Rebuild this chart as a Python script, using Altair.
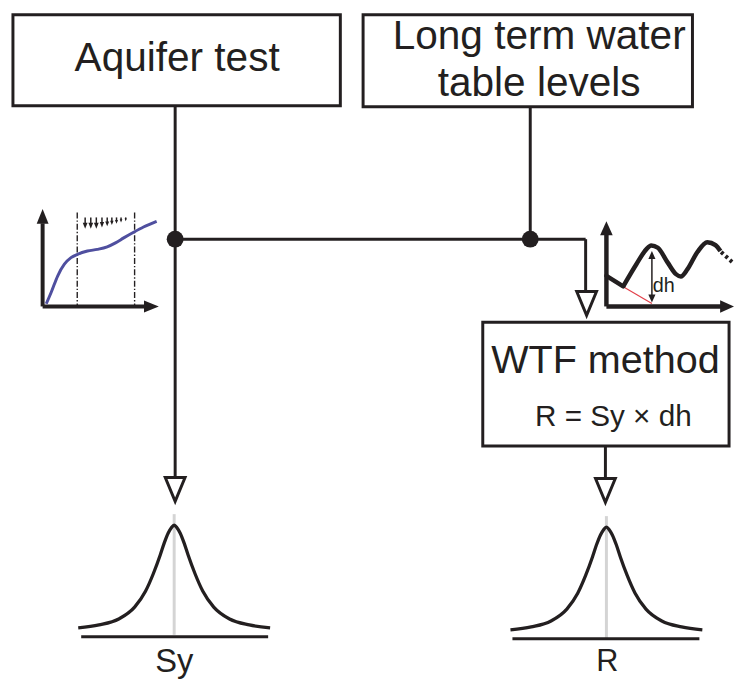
import altair as alt
import pandas as pd

INK = "#231f20"
FONT = "Liberation Sans"

# ---- flow-chart boxes (pixel coordinates of the diagram) ----
box_x1 = [13, 367, 488]
box_x2 = [344, 700, 737]
box_y1 = [11, 11, 322]
box_y2 = [103, 104, 447]

# ---- labels ----
label_text = ["Aquifer test", "Long term water", "table levels", "WTF method",
              "R = Sy \u00d7 dh", "Sy", "R", "dh"]
label_x = [179, 545, 545, 612, 620, 176, 614, 671]
label_y = [68, 46, 93, 373, 427, 676, 675, 291]
label_size = [41, 41, 41, 40, 30, 33, 31, 20]

# ---- connector segments ----
seg_x1 = [177, 536, 177, 592, 612]
seg_y1 = [103, 104, 238, 238, 447]
seg_x2 = [177, 536, 592, 592, 612]
seg_y2 = [478, 238, 238, 290, 480]

# junction dots
dot_x = [177, 536]
dot_y = [238, 238]

# hollow arrow heads
harrow_x = [177, 593, 612]
harrow_y = [491, 303, 492]

# ---- distributions ----
bell_dx = [-97, -76, -56, -40, -29, -21, -14, -10, -6, -3, 0, 3, 6, 10, 14, 21, 29, 40, 56, 76, 97]
bell_h = [0, 3, 9, 21, 37, 55, 74, 86, 96, 101, 104, 101, 96, 86, 74, 55, 37, 21, 9, 3, 0]
bell_cx = [176, 613]
bell_base = [631, 633]
grey_x = [176, 613]
grey_y1 = [516, 518]
grey_y2 = [638, 642]
baseline_x1 = [82, 518]
baseline_x2 = [271, 707]
baseline_y = [640, 642]

# ---- aquifer test inset ----
aq_curve_x = [46.7, 51.7, 58.3, 65, 71.7, 78.3, 88.3, 98.3, 108.3, 116.7, 125, 135, 145, 158.3]
aq_curve_y = [303.3, 291.7, 275, 263.3, 256.7, 253.3, 250, 248.3, 245.7, 241.7, 236.7, 231, 225.7, 220]
aq_axis_x1 = [43, 43]
aq_axis_y1 = [222, 306]
aq_axis_x2 = [43, 147]
aq_axis_y2 = [306, 306]
aq_dash_x = [78, 136]
aq_dash_y1 = [211, 211]
aq_dash_y2 = [305, 305]
drop_x = [86, 91.7, 97.3, 103, 108.3, 113, 117.7, 122.3, 127]
drop_h = [11, 11, 11, 10, 9, 8, 7, 6, 5]
drop_top = 216

# ---- WTF inset ----
wtf_axis_x1 = [613, 613]
wtf_axis_y1 = [233, 306]
wtf_axis_x2 = [613, 729]
wtf_axis_y2 = [306, 306]
wtf_start_x = [613, 630]
wtf_start_y = [275, 285.7]
wtf_curve_x = [630, 643.3, 653.3, 658.3, 665, 675, 683.3, 688.3, 695, 705, 715, 723.3, 728.3]
wtf_curve_y = [285.7, 263.3, 248.3, 244.3, 246.7, 261.7, 273.3, 275.7, 268.3, 251, 241, 244, 250]
wtf_dash_x = [729, 740]
wtf_dash_y = [251, 261]
red_x = [630, 659]
red_y = [286, 303]
dh_x = 659
dh_y1 = 257
dh_y2 = 295

XS = alt.Scale(domain=[8, 734], nice=False, zero=False)
YS = alt.Scale(domain=[8, 677], nice=False, zero=False, reverse=True)


def X(f="x"):
    return alt.X(f, type="quantitative", scale=XS, axis=None)


def Y(f="y"):
    return alt.Y(f, type="quantitative", scale=YS, axis=None)


def rules(x1, y1, x2, y2, **kw):
    df = pd.DataFrame({"x": x1, "y": y1, "x2": x2, "y2": y2})
    return alt.Chart(df).mark_rule(**kw).encode(
        x=X(), y=Y(), x2=alt.X2("x2:Q"), y2=alt.Y2("y2:Q"))


def poly(xs, ys, **kw):
    df = pd.DataFrame({"x": xs, "y": ys, "o": list(range(len(xs)))})
    return alt.Chart(df).mark_line(**kw).encode(
        x=X(), y=Y(), order="o:Q")


def heads(xs, ys, sizes, shape):
    df = pd.DataFrame({"x": xs, "y": ys, "s": sizes})
    return alt.Chart(df).mark_point(shape=shape, filled=True, color=INK, opacity=1,
                                    strokeWidth=0).encode(
        x=X(), y=Y(), size=alt.Size("s:Q", scale=None, legend=None))


UP = "M0,-1L0.8,1L-0.8,1Z"
DOWN = "M0,1L0.8,-1L-0.8,-1Z"
RIGHT = "M1,0L-1,0.8L-1,-0.8Z"

boxes = alt.Chart(pd.DataFrame({"x": box_x1, "x2": box_x2, "y": box_y1, "y2": box_y2})).mark_rect(
    fill="white", stroke=INK, strokeWidth=3).encode(
    x=X(), x2=alt.X2("x2:Q"), y=Y(), y2=alt.Y2("y2:Q"))

labels = alt.Chart(pd.DataFrame({"t": label_text, "x": label_x, "y": label_y, "s": label_size})).mark_text(
    align="center", baseline="alphabetic", font=FONT, color=INK).encode(
    x=X(), y=Y(), text="t:N", size=alt.Size("s:Q", scale=None, legend=None))

connectors = rules(seg_x1, seg_y1, seg_x2, seg_y2, color=INK, strokeWidth=3)

dots = alt.Chart(pd.DataFrame({"x": dot_x, "y": dot_y})).mark_point(
    shape="circle", filled=True, color=INK, size=290, opacity=1).encode(x=X(), y=Y())

harrows = alt.Chart(pd.DataFrame({"x": harrow_x, "y": harrow_y})).mark_point(
    shape="M-0.83,-1L0.83,-1L0,1Z", filled=False, fill="white", stroke=INK,
    strokeWidth=3, size=580, opacity=1, fillOpacity=1, strokeJoin="miter").encode(x=X(), y=Y())

bell_rows = []
for i, (cx, b) in enumerate(zip(bell_cx, bell_base)):
    for j, (dx, h) in enumerate(zip(bell_dx, bell_h)):
        bell_rows.append({"id": i, "o": j, "x": cx + dx, "y": b - h})
bells = alt.Chart(pd.DataFrame(bell_rows)).mark_line(
    color=INK, strokeWidth=3.3, interpolate="monotone").encode(
    x=X(), y=Y(), detail="id:N", order="o:Q")

greys = rules(grey_x, grey_y1, grey_x, grey_y2, color="#d4d4d4", strokeWidth=3)
bases = rules(baseline_x1, baseline_y, baseline_x2, baseline_y, color=INK, strokeWidth=3)

# aquifer inset
aq_axes = rules(aq_axis_x1, aq_axis_y1, aq_axis_x2, aq_axis_y2, color=INK, strokeWidth=4)
aq_up = heads([43], [215], [225], UP)
aq_right = heads([153], [306], [225], RIGHT)
aq_dash = rules(aq_dash_x, aq_dash_y1, aq_dash_x, aq_dash_y2, color=INK, strokeWidth=1.4,
                strokeDash=[6, 2, 1.5, 2])
aq_curve = poly(aq_curve_x, aq_curve_y, color="#4f4f9f", strokeWidth=3, interpolate="monotone")
drop_stems = rules(drop_x, [drop_top] * len(drop_x), drop_x,
                   [drop_top + h - 3 for h in drop_h], color=INK, strokeWidth=1.5)
drop_heads = heads(drop_x, [drop_top + h - 2.5 for h in drop_h],
                   [(0.55 * h) ** 2 for h in drop_h], DOWN)

# WTF inset
wtf_axes = rules(wtf_axis_x1, wtf_axis_y1, wtf_axis_x2, wtf_axis_y2, color=INK, strokeWidth=4.5)
wtf_up = heads([613], [227], [200], "M0,-1L0.9,1L-0.9,1Z")
wtf_right = heads([735], [306], [196], "M1,0L-1,0.9L-1,-0.9Z")
wtf_start = poly(wtf_start_x, wtf_start_y, color=INK, strokeWidth=4.5, strokeCap="round")
wtf_curve = poly(wtf_curve_x, wtf_curve_y, color=INK, strokeWidth=4.5, interpolate="monotone",
                 strokeJoin="round")
wtf_dash = poly(wtf_dash_x, wtf_dash_y, color=INK, strokeWidth=4, strokeDash=[3, 3])
red = poly(red_x, red_y, color="#e2404a", strokeWidth=1.2)
dh_rule = rules([dh_x], [dh_y1], [dh_x], [dh_y2], color=INK, strokeWidth=1.5)
dh_up = heads([dh_x], [254], [64], "M0,-1L0.9,1L-0.9,1Z")
dh_dn = heads([dh_x], [298], [64], "M0,1L0.9,-1L-0.9,-1Z")

chart = alt.layer(
    boxes, connectors, greys, bells, bases, harrows, dots, labels,
    aq_axes, aq_up, aq_right, aq_dash, aq_curve, drop_stems, drop_heads,
    red, wtf_axes, wtf_up, wtf_right, wtf_start, wtf_curve, wtf_dash,
    dh_rule, dh_up, dh_dn,
).properties(
    width=726, height=669,
    padding={"left": 0, "top": 0, "right": 8, "bottom": 8},
    autosize=alt.AutoSizeParams(type="none"),
    background="white",
).configure_view(stroke=None)

chart.save("out.html", embed_options={"renderer": "svg", "actions": False})
